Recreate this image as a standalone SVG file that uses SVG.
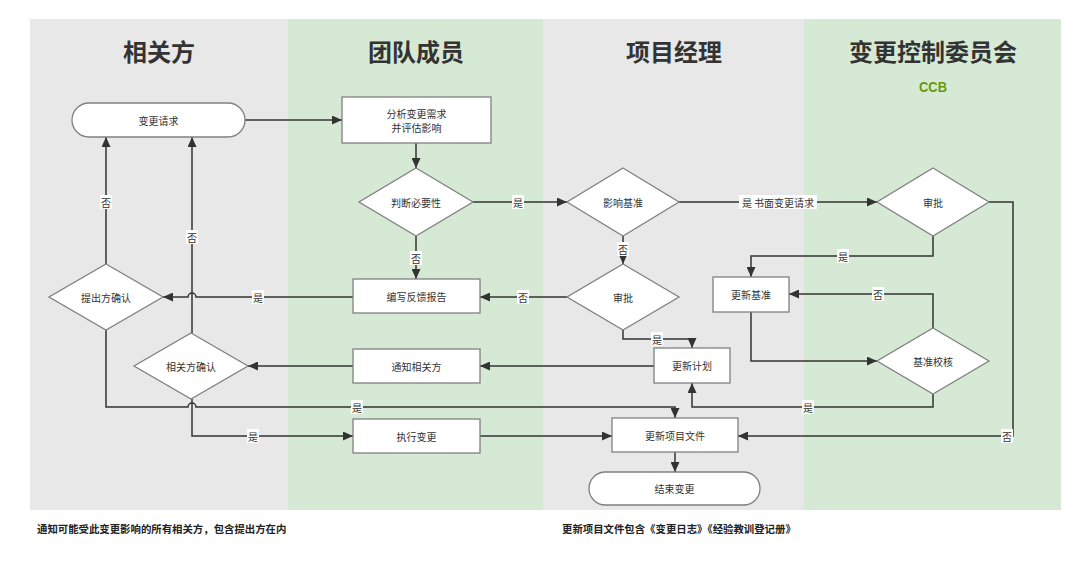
<svg xmlns="http://www.w3.org/2000/svg" width="1080" height="561" viewBox="0 0 1080 561">
<style>
.lg{fill:#e8e8e8}
.lgn{fill:#d6e9d4}
.ttl{font-family:"Noto Sans CJK SC","Noto Sans",sans-serif;font-size:24px;font-weight:bold;fill:#333;text-anchor:middle}
.nd{fill:#fff;stroke:#808080;stroke-width:1.3}
.tx{font-family:"Noto Sans CJK SC","Noto Sans",sans-serif;font-size:10px;fill:#333;text-anchor:middle;dominant-baseline:central}
.cn{fill:none;stroke:#333;stroke-width:1.5}
.lb{font-family:"Noto Sans CJK SC","Noto Sans",sans-serif;font-size:10px;fill:#333;text-anchor:middle;dominant-baseline:central}
.lbg{fill:#fff}
.ft{font-family:"Noto Sans CJK SC","Noto Sans",sans-serif;font-size:10.4px;font-weight:bold;fill:#222}
</style>
<defs>
<marker id="ah" markerUnits="userSpaceOnUse" markerWidth="11" markerHeight="9" refX="10" refY="4.5" orient="auto">
<path d="M0,0 L10,4.5 L0,9 z" fill="#333"/>
</marker>
</defs>
<rect width="1080" height="561" fill="#fff"/>
<g id="lanes">
<rect class="lg" x="30" y="19" width="258" height="491"/>
<rect class="lgn" x="288" y="19" width="255" height="491"/>
<rect class="lg" x="543" y="19" width="261" height="491"/>
<rect class="lgn" x="804" y="19" width="257" height="491"/>
<text class="ttl" x="159" y="61">相关方</text>
<text class="ttl" x="416" y="61">团队成员</text>
<text class="ttl" x="674" y="61">项目经理</text>
<text class="ttl" x="933" y="61">变更控制委员会</text>
<text x="933" y="91.5" font-family="Liberation Sans, sans-serif" font-size="15.5" font-weight="bold" fill="#6a9a00" text-anchor="middle" textLength="28" lengthAdjust="spacingAndGlyphs">CCB</text>
</g>
<g id="connectors">
<path class="cn" d="M245,120 H342" marker-end="url(#ah)"/>
<path class="cn" d="M416,143 V168" marker-end="url(#ah)"/>
<path class="cn" d="M473,202 H567" marker-end="url(#ah)"/>
<path class="cn" d="M416,236 V279" marker-end="url(#ah)"/>
<path class="cn" d="M679,202 H877" marker-end="url(#ah)"/>
<path class="cn" d="M623,236 V264" marker-end="url(#ah)"/>
<path class="cn" d="M567,297 H480" marker-end="url(#ah)"/>
<path class="cn" d="M353,297 H196 A4,4 0 0 0 188,297 H163" marker-end="url(#ah)"/>
<path class="cn" d="M106,264 V137" marker-end="url(#ah)"/>
<path class="cn" d="M192,333 V137" marker-end="url(#ah)"/>
<path class="cn" d="M106,330 V407 H188 A4,4 0 0 1 196,407 H675 V418" marker-end="url(#ah)"/>
<path class="cn" d="M192,399 V436 H353" marker-end="url(#ah)"/>
<path class="cn" d="M480,436 H612" marker-end="url(#ah)"/>
<path class="cn" d="M353,366 H248" marker-end="url(#ah)"/>
<path class="cn" d="M654,366 H480" marker-end="url(#ah)"/>
<path class="cn" d="M623,330 V339 H692 V348" marker-end="url(#ah)"/>
<path class="cn" d="M933,236 V256 H751 V277" marker-end="url(#ah)"/>
<path class="cn" d="M751,312 V361 H877" marker-end="url(#ah)"/>
<path class="cn" d="M933,328 V294 H789" marker-end="url(#ah)"/>
<path class="cn" d="M933,394 V407 H692 V383" marker-end="url(#ah)"/>
<path class="cn" d="M989,202 H1013 V436 H738" marker-end="url(#ah)"/>
<path class="cn" d="M675,452 V472" marker-end="url(#ah)"/>
<g id="labels">
<rect class="lbg" x="100" y="195" width="12" height="14"/><text class="lb" x="106" y="202">否</text>
<rect class="lbg" x="186" y="230" width="12" height="14"/><text class="lb" x="192" y="237">否</text>
<rect class="lbg" x="512" y="195" width="12" height="14"/><text class="lb" x="518" y="202">是</text>
<rect class="lbg" x="410" y="251" width="12" height="14"/><text class="lb" x="416" y="258">否</text>
<rect class="lbg" x="739" y="195" width="78" height="14"/><text class="lb" x="778" y="202">是  书面变更请求</text>
<rect class="lbg" x="617" y="242" width="12" height="14"/><text class="lb" x="623" y="249">否</text>
<rect class="lbg" x="517" y="290" width="12" height="14"/><text class="lb" x="523" y="297">否</text>
<rect class="lbg" x="252" y="290" width="12" height="14"/><text class="lb" x="258" y="297">是</text>
<rect class="lbg" x="351" y="400" width="12" height="14"/><text class="lb" x="357" y="407">是</text>
<rect class="lbg" x="247" y="429" width="12" height="14"/><text class="lb" x="253" y="436">是</text>
<rect class="lbg" x="651" y="332" width="12" height="14"/><text class="lb" x="657" y="339">是</text>
<rect class="lbg" x="837" y="249" width="12" height="14"/><text class="lb" x="843" y="256">是</text>
<rect class="lbg" x="872" y="287" width="12" height="14"/><text class="lb" x="878" y="294">否</text>
<rect class="lbg" x="802" y="400" width="12" height="14"/><text class="lb" x="808" y="407">是</text>
<rect class="lbg" x="1001" y="429" width="12" height="14"/><text class="lb" x="1007" y="436">否</text>
</g>
</g>
<g id="n-request"><rect class="nd" x="72" y="103" width="173" height="34" rx="17"/><text class="tx" x="158.5" y="120">变更请求</text></g>
<g id="n-analyze"><rect class="nd" x="342" y="97" width="149" height="46"/><text class="tx" x="416.5" y="113">分析变更需求</text><text class="tx" x="416.5" y="127">并评估影响</text></g>
<g id="n-necessity"><polygon class="nd" points="416,168 473,202 416,236 359,202"/><text class="tx" x="416" y="202">判断必要性</text></g>
<g id="n-report"><rect class="nd" x="353" y="279" width="127" height="34"/><text class="tx" x="416.5" y="296">编写反馈报告</text></g>
<g id="n-proposer"><polygon class="nd" points="106,264 163,297 106,330 49,297"/><text class="tx" x="106" y="297">提出方确认</text></g>
<g id="n-stakeholder"><polygon class="nd" points="191,333 248,366 191,399 134,366"/><text class="tx" x="191" y="366">相关方确认</text></g>
<g id="n-notify"><rect class="nd" x="353" y="349" width="127" height="34"/><text class="tx" x="416.5" y="366">通知相关方</text></g>
<g id="n-execute"><rect class="nd" x="353" y="419" width="127" height="34"/><text class="tx" x="416.5" y="436">执行变更</text></g>
<g id="n-baseline-impact"><polygon class="nd" points="623,168 679,202 623,236 567,202"/><text class="tx" x="623" y="202">影响基准</text></g>
<g id="n-approve-pm"><polygon class="nd" points="623,264 679,297 623,330 567,297"/><text class="tx" x="623" y="297">审批</text></g>
<g id="n-update-baseline"><rect class="nd" x="713" y="277" width="76" height="35"/><text class="tx" x="751" y="294.5">更新基准</text></g>
<g id="n-approve-ccb"><polygon class="nd" points="933,168 989,202 933,236 877,202"/><text class="tx" x="933" y="202">审批</text></g>
<g id="n-baseline-check"><polygon class="nd" points="933,328 989,361 933,394 877,361"/><text class="tx" x="933" y="361">基准校核</text></g>
<g id="n-update-plan"><rect class="nd" x="654" y="348" width="76" height="35"/><text class="tx" x="692" y="365.5">更新计划</text></g>
<g id="n-update-docs"><rect class="nd" x="612" y="418" width="126" height="34"/><text class="tx" x="675" y="435">更新项目文件</text></g>
<g id="n-end"><rect class="nd" x="589" y="472" width="171" height="33" rx="16.5"/><text class="tx" x="674.5" y="488.5">结束变更</text></g>
<g id="notes">
<text class="ft" x="37" y="533">通知可能受此变更影响的所有相关方，包含提出方在内</text>
<text class="ft" x="562" y="533">更新项目文件包含《变更日志》《经验教训登记册》</text>
</g>
</svg>
